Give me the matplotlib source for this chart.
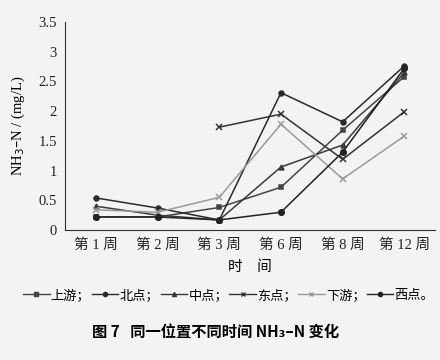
import matplotlib.pyplot as plt
from matplotlib.lines import Line2D
import numpy as np

weeks = ['第 1 周', '第 2 周', '第 3 周', '第 6 周', '第 8 周', '第 12 周']

shangyou = [0.22, 0.22, 0.38, 0.72, 1.68, 2.58]
beidian = [0.54, 0.37, 0.17, 2.31, 1.82, 2.76]
zhongdian = [0.40, 0.25, 0.17, 1.06, 1.43, 2.65]
dongdian = [np.nan, np.nan, 1.73, 1.95, 1.19, 1.99]
xiayou = [0.34, 0.30, 0.55, 1.78, 0.86, 1.58]
xidian = [0.22, 0.22, 0.17, 0.30, 1.31, 2.72]

series = [
    ('上游', shangyou, 's', '#444444', 3.5),
    ('北点', beidian, 'o', '#2a2a2a', 3.5),
    ('中点', zhongdian, '^', '#3a3a3a', 3.5),
    ('东点', dongdian, 'x', '#333333', 4.5),
    ('下游', xiayou, 'x', '#9a9a9a', 4.5),
    ('西点', xidian, 'o', '#222222', 4),
]

fonts = ['Liberation Serif', 'Noto Sans CJK SC']
plt.rcParams['font.family'] = fonts
bg = '#f3f3f1'

fig = plt.figure(figsize=(4.4, 3.6), dpi=100, facecolor=bg)
ax = fig.add_axes([0.148, 0.361, 0.841, 0.578], facecolor=bg)

x = np.arange(len(weeks))
handles = []
for name, vals, mk, col, ms in series:
    ax.plot(x, vals, marker=mk, color=col, lw=1.1, ms=ms, mew=1.1)
    handles.append(Line2D([], [], marker=mk, color=col, lw=1.0, ms=3, mew=1.0))

ax.set_xlim(-0.5, 5.5)
ax.set_ylim(0, 3.5)
ax.set_xticks(x)
ax.set_xticklabels(weeks, fontsize=10.5)
ax.set_yticks([0, 0.5, 1, 1.5, 2, 2.5, 3, 3.5])
ax.set_yticklabels(['0', '0.5', '1', '1.5', '2', '2.5', '3', '3.5'], fontsize=10.5)
ax.tick_params(length=0, pad=6, colors='#222222')
for s in ['top', 'right']:
    ax.spines[s].set_visible(False)
for s in ['left', 'bottom']:
    ax.spines[s].set_color('#333333')

ax.set_xlabel('时    间', fontsize=10.5, labelpad=6)
ax.set_ylabel(r'NH$_3$–N / (mg/L)', fontsize=10.5, labelpad=8)

labels = [n + ('；' if i < 5 else '。') for i, (n, *_ ) in enumerate(series)]
fig.legend(handles, labels, ncol=6, loc='center', bbox_to_anchor=(0.52, 0.18),
           frameon=False, fontsize=9.5, handlelength=2.0, handletextpad=0.1,
           columnspacing=0.1, borderaxespad=0)

fig.text(0.49, 0.078, '图 7   同一位置不同时间 NH₃–N 变化', ha='center',
         va='center', fontsize=11, fontweight='bold',
         family=['Noto Sans CJK SC', 'DejaVu Sans'])

fig.savefig('out.png', dpi=100, facecolor=bg)
